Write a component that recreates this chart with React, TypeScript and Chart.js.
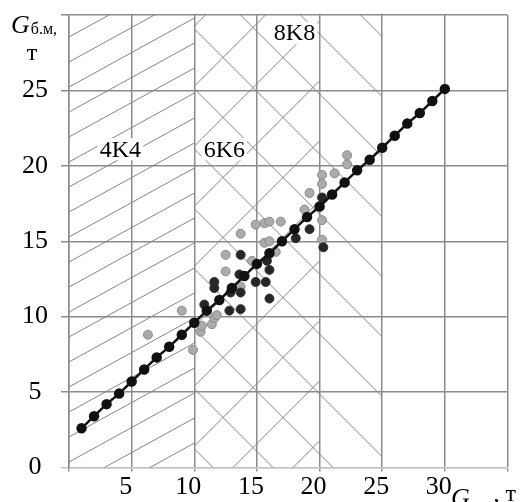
import React, { useEffect, useRef } from 'react';
import { Chart, registerables } from 'chart.js';

Chart.register(...registerables);

// ---- data ----
const xMin = 0;
const xMax = 35;
const yMin = 0;
const yMax = 30;
const tickStep = 5;

// regression line with markers
const lineX = [1, 2, 3, 4, 5, 6, 7, 8, 9, 10, 11, 12, 13, 14, 15, 16, 17, 18, 19, 20, 21, 22, 23, 24, 25, 26, 27, 28, 29, 30];
const lineY = [2.6, 3.4, 4.2, 4.9, 5.7, 6.5, 7.3, 8.0, 8.8, 9.6, 10.4, 11.1, 11.9, 12.7, 13.5, 14.2, 15.0, 15.8, 16.6, 17.3, 18.1, 18.9, 19.7, 20.4, 21.2, 22.0, 22.8, 23.5, 24.3, 25.1];

// light grey observations
const lightX = [6.3, 9.0, 9.9, 10.5, 10.6, 11.4, 11.6, 11.8, 12.5, 12.5, 13.7, 13.7, 14.6, 14.9, 15.6, 16.0, 15.6, 16.0, 16.5, 16.9, 18.8, 19.2, 20.2, 20.2, 20.2, 20.2, 21.2, 22.2, 22.2];
const lightY = [8.8, 10.4, 7.8, 9.0, 9.4, 9.5, 9.9, 10.1, 13.0, 14.1, 12.0, 15.5, 13.7, 16.1, 16.2, 16.3, 14.9, 15.0, 14.3, 16.3, 17.1, 18.2, 18.8, 19.4, 16.4, 15.1, 19.5, 20.1, 20.7];

// dark observations
const darkX = [10.8, 11.6, 11.6, 12.9, 12.8, 13.7, 13.7, 13.7, 13.6, 14.9, 15.7, 16.0, 16.0, 15.8, 18.1, 19.2, 20.3, 20.2];
const darkY = [10.8, 12.3, 11.9, 11.6, 10.4, 10.5, 11.6, 14.1, 12.8, 12.3, 12.3, 13.1, 11.2, 13.7, 15.2, 15.8, 14.6, 17.9];

// zones (x ranges) and their labels
const zoneNames = ['4K4', '6K6', '8K8'];
const zoneFrom = [0, 10, 10];
const zoneTo = [10, 20, 25];
const zoneLabelX = [4.1, 12.4, 18.0];
const zoneLabelY = [21.1, 21.1, 28.8];

const yTitleMain = 'G';
const yTitleSub = 'б.м,';
const yTitleUnit = 'т';
const xTitleMain = 'G';
const xTitleSub = 'т.о.';
const xTitleUnit = ', т';

const SERIF = "'Liberation Serif', 'Times New Roman', serif";

const toPts = (xs: number[], ys: number[]) => xs.map((x, i) => ({ x, y: ys[i] }));

const hatchPlugin = {
  id: 'hatch',
  beforeDatasetsDraw(chart: any) {
    const { ctx, scales } = chart;
    const xs = scales.x;
    const ys = scales.y;
    const top = ys.getPixelForValue(yMax);
    const bottom = ys.getPixelForValue(yMin);
    const left = xs.getPixelForValue(xMin);
    ctx.save();
    ctx.strokeStyle = '#858585';
    ctx.lineWidth = 1;
    const clip = (a: number, b: number) => {
      ctx.beginPath();
      ctx.rect(xs.getPixelForValue(a), top, xs.getPixelForValue(b) - xs.getPixelForValue(a), bottom - top);
      ctx.clip();
    };
    // zone 1: shallow "/" lines
    ctx.save();
    clip(zoneFrom[0], zoneTo[0]);
    ctx.beginPath();
    const x0 = xs.getPixelForValue(zoneFrom[0]);
    const x1 = xs.getPixelForValue(zoneTo[0]);
    const slope = 0.55;
    for (let k = -5; k < 40; k++) {
      const yl = bottom - 55.5 - 25 * k;
      ctx.moveTo(x0, yl);
      ctx.lineTo(x1, yl - slope * (x1 - x0));
    }
    ctx.stroke();
    ctx.restore();
    // zone 2: "/" 45deg
    ctx.save();
    clip(zoneFrom[1], zoneTo[1]);
    ctx.beginPath();
    for (let k = -15; k < 15; k++) {
      const c = left + 164 + bottom + 60 * k;
      const Y1 = bottom + 50;
      const Y2 = top - 50;
      ctx.moveTo(c - Y1, Y1);
      ctx.lineTo(c - Y2, Y2);
    }
    ctx.stroke();
    ctx.restore();
    // zone 3: "\" 45deg
    ctx.save();
    clip(zoneFrom[2], zoneTo[2]);
    ctx.beginPath();
    for (let k = -15; k < 15; k++) {
      const c = bottom - (left + 144) + 60 * k;
      const Y1 = bottom + 50;
      const Y2 = top - 50;
      ctx.moveTo(Y1 - c, Y1);
      ctx.lineTo(Y2 - c, Y2);
    }
    ctx.stroke();
    ctx.restore();

    // zone labels
    ctx.font = `24px ${SERIF}`;
    ctx.textAlign = 'center';
    ctx.textBaseline = 'middle';
    zoneNames.forEach((n, i) => {
      const px = xs.getPixelForValue(zoneLabelX[i]);
      const py = ys.getPixelForValue(zoneLabelY[i]);
      const w = ctx.measureText(n).width;
      ctx.fillStyle = '#fff';
      ctx.fillRect(px - w / 2 - 2, py - 11, w + 4, 22);
      ctx.fillStyle = '#000';
      ctx.fillText(n, px, py + 1);
    });
    ctx.restore();
  },
  afterDraw(chart: any) {
    const { ctx } = chart;
    ctx.save();
    ctx.fillStyle = '#000';
    ctx.textBaseline = 'alphabetic';
    ctx.textAlign = 'left';
    // y title
    ctx.font = `italic 26px ${SERIF}`;
    ctx.fillText(yTitleMain, 11, 33);
    let w = ctx.measureText(yTitleMain).width;
    ctx.font = `16px ${SERIF}`;
    ctx.fillText(yTitleSub, 11 + w + 1, 34);
    ctx.font = `24px ${SERIF}`;
    ctx.textAlign = 'center';
    ctx.fillText(yTitleUnit, 32, 60);
    // x title
    ctx.textAlign = 'left';
    ctx.font = `italic 26px ${SERIF}`;
    ctx.fillText(xTitleMain, 451, 506);
    w = ctx.measureText(xTitleMain).width;
    ctx.font = `16px ${SERIF}`;
    ctx.fillText(xTitleSub, 451 + w + 1, 510);
    const w2 = ctx.measureText(xTitleSub).width;
    ctx.font = `24px ${SERIF}`;
    ctx.fillText(xTitleUnit, 451 + w + w2 + 2, 501);
    ctx.restore();
  },
};

export default function App() {
  const ref = useRef<HTMLCanvasElement | null>(null);
  useEffect(() => {
    if (!ref.current) return;
    const chart = new Chart(ref.current, {
      type: 'scatter',
      data: {
        datasets: [
          {
            label: 'line',
            data: toPts(lineX, lineY),
            showLine: true,
            borderColor: '#111',
            borderWidth: 2.5,
            pointRadius: 4,
            pointBackgroundColor: '#111',
            pointBorderColor: '#111',
            order: 0,
          },
          {
            label: 'dark',
            data: toPts(darkX, darkY),
            pointRadius: 4.5,
            pointBackgroundColor: '#262626',
            pointBorderColor: '#333',
            pointBorderWidth: 1,
            order: 1,
          },
          {
            label: 'light',
            data: toPts(lightX, lightY),
            pointRadius: 4.5,
            pointBackgroundColor: '#ababab',
            pointBorderColor: '#8a8a8a',
            pointBorderWidth: 1,
            order: 2,
          },
        ],
      },
      options: {
        animation: false,
        responsive: false,
        layout: { padding: { top: 15, right: 12.5, left: 0, bottom: 0 } },
        plugins: { legend: { display: false }, tooltip: { enabled: false } },
        scales: {
          x: {
            type: 'linear',
            min: xMin,
            max: xMax,
            afterFit: (s: any) => { s.height = 34.5; s.paddingLeft = 0; s.paddingRight = 0; },
            ticks: {
              stepSize: tickStep,
              autoSkip: false,
              maxRotation: 0,
              padding: 0,
              labelOffset: -6,
              color: '#000',
              font: { family: SERIF, size: 26 },
              callback: (v: any) => (v === xMin || v === xMax ? '' : String(v)),
            },
            grid: { color: '#8c8c8c', lineWidth: 1.5, tickLength: 4 },
            border: { display: true, color: '#c4c4c4', width: 1.5 },
          },
          y: {
            type: 'linear',
            min: yMin,
            max: yMax,
            afterFit: (s: any) => { s.width = 69; s.paddingTop = 0; s.paddingBottom = 0; },
            ticks: {
              stepSize: tickStep,
              autoSkip: false,
              padding: 13,
              crossAlign: 'center',
              color: '#000',
              font: { family: SERIF, size: 26 },
              callback: (v: any) => (v === yMax ? '' : String(v)),
            },
            grid: {
              color: (c: any) => (c.tick && c.tick.value === yMin ? '#c4c4c4' : '#8c8c8c'),
              lineWidth: 1.5,
              tickLength: 8,
            },
            border: { display: true, color: '#8c8c8c', width: 1.5 },
          },
        },
      },
      plugins: [hatchPlugin],
    } as any);
    return () => chart.destroy();
  }, []);
  return (
    <div style={{ position: 'absolute', left: 0, top: 0, width: 520, height: 502, background: '#fff' }}>
      <canvas ref={ref} width={520} height={502} style={{ display: 'block' }} />
    </div>
  );
}
